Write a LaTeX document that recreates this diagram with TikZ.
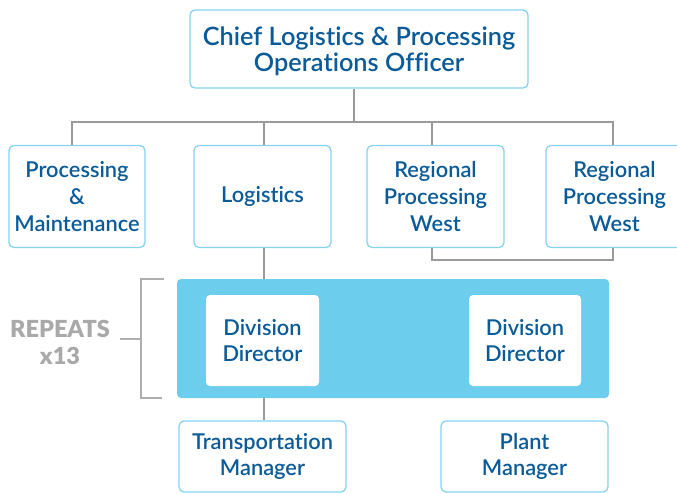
\documentclass[tikz,border=0pt]{standalone}
\usepackage{fontspec}
\setmainfont{Lato}[UprightFont=* Semibold,BoldFont=* Black,Ligatures={NoCommon}]
\definecolor{txtblue}{HTML}{0B5B98}
\definecolor{edgeblue}{HTML}{86D3F0}
\definecolor{panelblue}{HTML}{6DCDEC}
\definecolor{linegray}{HTML}{9A9A9A}
\definecolor{repgray}{HTML}{A9A9A9}
\begin{document}
\begin{tikzpicture}[x=1pt,y=-1pt,
  box/.style={draw=edgeblue,line width=1.3pt,rounded corners=5pt,fill=white,
    text=txtblue,align=center,inner sep=0pt,font=\fontsize{21.8}{27}\selectfont},
  ddbox/.style={fill=white,rounded corners=4pt,text=txtblue,align=center,inner sep=0pt,
    font=\fontsize{21.8}{26}\selectfont},
  conn/.style={draw=linegray,line width=1.1pt},
  brk/.style={draw=linegray!80,line width=1.1pt}]
\useasboundingbox (0,0) rectangle (677,493);
% nodes
\node[box,minimum width=338pt,minimum height=78pt] (top) at (359,49) {};
\node[text=txtblue,align=center,inner sep=0pt,font=\fontsize{25.3}{26}\selectfont] (toptext) at (359,51.5) {Chief Logistics \& Processing\\Operations Officer};
\node[box,minimum width=136pt,minimum height=102pt] (pm) at (77,196.5) {Processing\\\&\\Maintenance};
\node[box,minimum width=137pt,minimum height=102pt] (log) at (262.5,196.5) {Logistics};
\node[box,minimum width=137pt,minimum height=102pt] (rw1) at (435.5,196.5) {Regional\\Processing\\West};
\node[box,minimum width=137pt,minimum height=102pt] (rw2) at (614.5,196.5) {Regional\\Processing\\West};
\node[fill=panelblue,rounded corners=4pt,minimum width=432pt,minimum height=119pt,inner sep=0pt] (panel) at (393,338.5) {};
\node[ddbox,minimum width=113pt,minimum height=91pt] (dd1) at (262.5,340.5) {Division\\Director};
\node[ddbox,minimum width=112pt,minimum height=91pt] (dd2) at (525,340.5) {Division\\Director};
\node[box,minimum width=167pt,minimum height=71pt,font=\fontsize{21.8}{26}\selectfont] (tm) at (262.5,456.5) {Transportation\\Manager};
\node[box,minimum width=167pt,minimum height=71pt,font=\fontsize{21.8}{26}\selectfont] (plm) at (524.5,456.5) {Plant\\Manager};
\node[text=repgray,align=center,font=\bfseries\fontsize{23.5}{27}\selectfont,inner sep=0pt] (rep) at (60,342) {REPEATS\\x13};
% connector coordinates
\coordinate (bus) at (354,122);
\coordinate (xpm) at (72,0);
\coordinate (xlog) at (264,0);
\coordinate (xrw1) at (432,0);
\coordinate (xrw2) at (613,0);
\coordinate (low) at (0,260);
% connectors
\draw[conn] (top.south -| bus) -- (bus);
\draw[conn] (pm.north -| xpm) -- (bus -| xpm) -- (bus -| xrw2) -- (rw2.north -| xrw2);
\draw[conn] (bus -| xlog) -- (log.north -| xlog);
\draw[conn] (bus -| xrw1) -- (rw1.north -| xrw1);
\draw[conn] (rw1.south -| xrw1) -- (low -| xrw1) -- (low -| xrw2) -- (rw2.south -| xrw2);
\draw[conn] (log.south -| xlog) -- (panel.north -| xlog);
\draw[conn] (panel.south -| xlog) -- (tm.north -| xlog);
% bracket
\coordinate (bt) at (164,279);
\coordinate (bb) at (162,398);
\coordinate (bx) at (141,0);
\coordinate (tick) at (120,339);
\draw[brk] (bt) -- (bt -| bx) -- (bb -| bx) -- (bb);
\draw[brk] (tick) -- (tick -| bx);
\end{tikzpicture}
\end{document}
